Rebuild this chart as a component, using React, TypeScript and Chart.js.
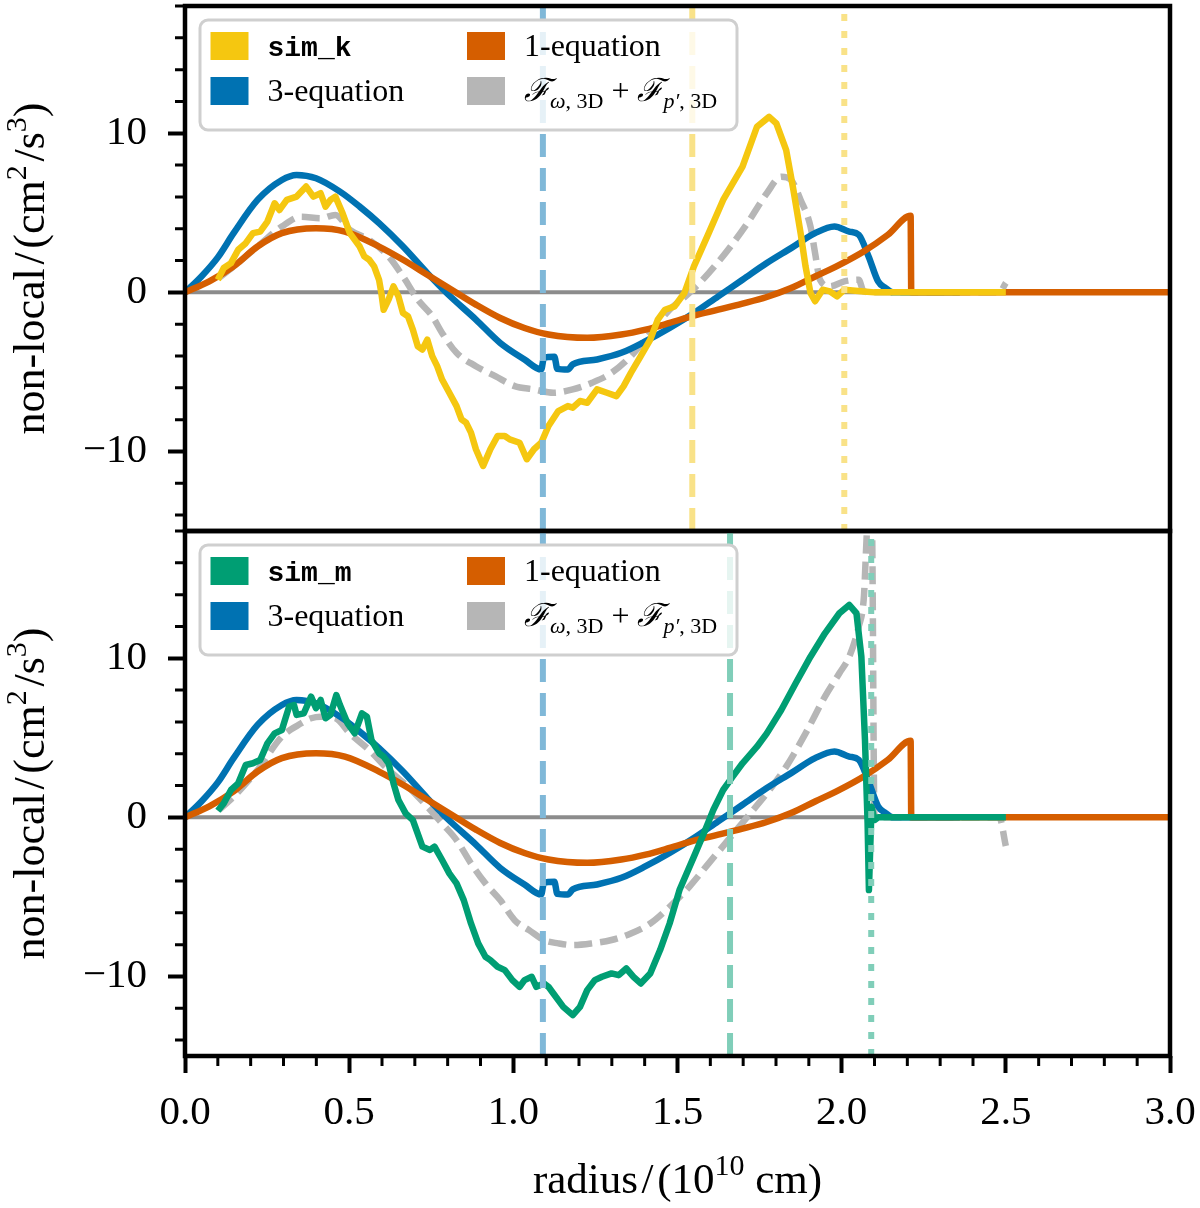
import React, { useEffect, useRef } from 'react';
import { Chart, registerables } from 'chart.js';

Chart.register(...registerables);

const SERIF = "'Liberation Serif', 'DejaVu Serif', serif";
const MONO = "'Liberation Mono', 'DejaVu Sans Mono', monospace";

// ---- axes ----
const X_MIN = 0;
const X_MAX = 3;
const Y_MIN = -15;
const Y_MAX = 18;
const xMajorTicks = [0, 0.5, 1, 1.5, 2, 2.5, 3];
const xMinorTicks = [0.1, 0.2, 0.3, 0.4, 0.6, 0.7, 0.8, 0.9, 1.1, 1.2, 1.3, 1.4, 1.6, 1.7, 1.8, 1.9, 2.1, 2.2, 2.3, 2.4, 2.6, 2.7, 2.8, 2.9];
const yMajorTicks = [-10, 0, 10];
const yMinorTicks = [-14, -12, -8, -6, -4, -2, 2, 4, 6, 8, 12, 14, 16, 18];

// ---- colours ----
const YELLOW = '#F5C710';
const BLUE = '#0072B2';
const ORANGE = '#D55E00';
const GREEN = '#009E73';
const GRAY = '#B6B6B6';
const ZERO_GRAY = '#8C8C8C';
const BLUE_LIGHT = '#80B8D8';
const YELLOW_LIGHT = '#F9E288';
const GREEN_LIGHT = '#80CEB9';

// ---- data (radius in 1e10 cm, non-local in cm^2/s^3) ----
const oneEq: [number, number][] = [
  [0, 0], [0.074, 0.69], [0.148, 1.63], [0.221, 2.88], [0.295, 3.72], [0.399, 4.03], [0.487, 3.82],
  [0.591, 2.88], [0.664, 2.05], [0.738, 1.11], [0.812, 0.17], [0.886, -0.77], [0.96, -1.61],
  [1.034, -2.24], [1.107, -2.65], [1.225, -2.86], [1.329, -2.65], [1.403, -2.34], [1.476, -1.92],
  [1.55, -1.46], [1.624, -1.09], [1.698, -0.71], [1.772, -0.29], [1.846, 0.27], [1.919, 1.0],
  [1.993, 1.73], [2.067, 2.57], [2.141, 3.62], [2.21, 4.81], [2.212, 0], [3.0, 0],
];

const threeEq: [number, number][] = [
  [0, 0], [0.05, 1.0], [0.1, 2.2], [0.148, 3.72], [0.221, 5.81], [0.295, 7.06], [0.34, 7.38],
  [0.399, 7.17], [0.472, 6.33], [0.532, 5.39], [0.591, 4.35], [0.664, 2.88], [0.738, 1.21],
  [0.797, -0.04], [0.886, -1.71], [0.96, -3.18], [1.034, -4.22], [1.085, -4.85], [1.093, -4.12],
  [1.125, -4.05], [1.134, -4.81], [1.166, -4.85], [1.181, -4.53], [1.255, -4.22], [1.329, -3.8],
  [1.403, -3.07], [1.476, -2.24], [1.55, -1.3], [1.624, -0.25], [1.698, 0.79], [1.772, 1.84],
  [1.846, 2.78], [1.919, 3.72], [1.978, 4.14], [2.023, 3.82], [2.052, 3.62], [2.082, 2.26],
  [2.111, 0.69], [2.134, 0.27], [2.156, 0], [2.36, 0],
];

const simK: [number, number][] = [
  [0.1, 0.79], [0.118, 1.53], [0.14, 1.84], [0.162, 2.68], [0.185, 3.09], [0.207, 3.72], [0.229, 3.82],
  [0.251, 4.45], [0.273, 5.6], [0.288, 5.18], [0.31, 5.81], [0.34, 6.02], [0.369, 6.65], [0.391, 6.02],
  [0.413, 6.23], [0.428, 5.39], [0.443, 5.81], [0.458, 6.02], [0.48, 4.97], [0.502, 3.72], [0.517, 3.3],
  [0.532, 2.88], [0.546, 2.26], [0.561, 2.05], [0.576, 1.63], [0.591, 0.79], [0.598, -0.04],
  [0.605, -1.09], [0.62, -0.46], [0.635, 0.38], [0.65, -0.25], [0.664, -1.3], [0.679, -1.5],
  [0.694, -2.34], [0.709, -3.39], [0.723, -3.59], [0.738, -2.97], [0.753, -4.01], [0.768, -4.64],
  [0.783, -5.48], [0.805, -6.31], [0.827, -7.15], [0.842, -7.98], [0.856, -8.19], [0.871, -8.82],
  [0.886, -9.86], [0.908, -10.91], [0.93, -9.86], [0.952, -9.03], [0.974, -9.03], [0.989, -9.24],
  [1.019, -9.45], [1.041, -10.49], [1.063, -9.86], [1.085, -9.45], [1.107, -8.4], [1.137, -7.46],
  [1.166, -7.15], [1.181, -7.25], [1.203, -6.83], [1.225, -6.94], [1.255, -6.1], [1.285, -6.31],
  [1.314, -6.52], [1.336, -5.89], [1.358, -5.06], [1.388, -4.01], [1.417, -2.97], [1.44, -1.71],
  [1.462, -1.09], [1.491, -0.88], [1.521, -0.04], [1.55, 1.63], [1.595, 3.72], [1.639, 5.81],
  [1.698, 7.9], [1.742, 10.41], [1.779, 11.03], [1.801, 10.62], [1.831, 8.94], [1.853, 6.44],
  [1.875, 3.72], [1.89, 1.63], [1.905, -0.04], [1.919, -0.56], [1.942, 0.17], [1.964, 0.06],
  [1.986, -0.25], [2.008, 0.17], [2.067, 0.06], [2.1, 0], [2.5, 0],
];

const fluxTop: [number, number][] = [
  [0.103, 0.9], [0.148, 1.63], [0.221, 2.88], [0.295, 4.14], [0.354, 4.76], [0.413, 4.66], [0.458, 4.87],
  [0.502, 3.93], [0.561, 3.3], [0.62, 2.26], [0.664, 1.0], [0.709, -0.46], [0.753, -1.5], [0.783, -2.55],
  [0.827, -3.8], [0.886, -4.64], [0.945, -5.27], [1.004, -5.89], [1.063, -6.1], [1.122, -6.31],
  [1.181, -6.1], [1.24, -5.68], [1.299, -5.06], [1.358, -4.01], [1.417, -2.55], [1.476, -1.09],
  [1.536, -0.04], [1.595, 1.21], [1.654, 2.68], [1.713, 4.35], [1.772, 6.23], [1.816, 7.27],
  [1.846, 7.06], [1.875, 5.81], [1.905, 4.14], [1.919, 2.47], [1.934, 0.79], [1.964, 0.38],
  [2.008, 0.69], [2.052, 0.79], [2.067, 0.06], [2.1, 0], [2.48, 0], [2.5, 0.6],
];

const simM: [number, number][] = [
  [0.1, 0.42], [0.118, 0.88], [0.14, 1.72], [0.162, 2.14], [0.185, 3.29], [0.207, 3.4], [0.229, 3.61],
  [0.251, 4.65], [0.273, 5.28], [0.295, 5.49], [0.317, 6.96], [0.332, 7.06], [0.34, 6.44], [0.362, 6.54],
  [0.384, 7.59], [0.399, 6.86], [0.413, 7.38], [0.428, 6.23], [0.443, 6.44], [0.461, 7.69], [0.472, 7.06],
  [0.495, 5.91], [0.517, 5.28], [0.539, 6.54], [0.554, 6.33], [0.568, 4.86], [0.591, 4.03], [0.605, 3.82],
  [0.62, 3.4], [0.635, 2.14], [0.65, 1.09], [0.672, 0.25], [0.694, -0.17], [0.723, -1.84], [0.746, -2.05],
  [0.76, -1.84], [0.783, -2.68], [0.805, -3.52], [0.827, -4.15], [0.849, -5.2], [0.871, -6.67],
  [0.893, -7.92], [0.915, -8.76], [0.93, -8.97], [0.952, -9.39], [0.974, -9.6], [0.997, -10.23],
  [1.019, -10.65], [1.034, -10.23], [1.056, -10.02], [1.07, -10.65], [1.093, -10.44], [1.107, -10.65],
  [1.122, -11.07], [1.152, -11.91], [1.181, -12.43], [1.203, -11.91], [1.225, -10.86], [1.248, -10.23],
  [1.27, -10.02], [1.299, -9.81], [1.321, -9.92], [1.344, -9.5], [1.366, -10.02], [1.388, -10.44],
  [1.417, -9.81], [1.447, -8.34], [1.476, -6.67], [1.506, -4.57], [1.55, -2.47], [1.58, -1.01],
  [1.609, 0.46], [1.639, 1.72], [1.668, 2.56], [1.698, 3.4], [1.742, 4.44], [1.772, 5.28], [1.816, 6.75],
  [1.86, 8.43], [1.905, 10.1], [1.949, 11.57], [1.993, 12.83], [2.023, 13.35], [2.045, 12.83],
  [2.06, 10.1], [2.071, 4.86], [2.079, -0.38], [2.083, -4.57], [2.091, 0.67], [2.1, -0.17],
  [2.111, 0], [2.5, 0],
];

const fluxBottom: [number, number][] = [
  [0.103, 0.46], [0.148, 1.3], [0.221, 2.98], [0.295, 5.07], [0.354, 5.91], [0.384, 6.23], [0.413, 6.33],
  [0.458, 6.23], [0.502, 5.28], [0.561, 4.23], [0.62, 2.98], [0.679, 1.93], [0.738, 0.67], [0.783, -0.38],
  [0.827, -1.43], [0.871, -2.89], [0.915, -4.15], [0.96, -5.2], [1.004, -6.46], [1.048, -7.09],
  [1.093, -7.71], [1.137, -7.92], [1.181, -8.03], [1.24, -7.92], [1.299, -7.71], [1.358, -7.3],
  [1.417, -6.67], [1.476, -5.62], [1.536, -4.36], [1.595, -2.89], [1.654, -1.43], [1.713, 0.04],
  [1.772, 1.51], [1.831, 3.19], [1.89, 5.28], [1.949, 7.59], [1.993, 9.06], [2.023, 10.1],
  [2.052, 11.99], [2.067, 13.67], [2.08, 18.5], [2.092, 18.5], [2.1, 0], [2.48, 0], [2.5, -1.8],
];

const zeroLine: [number, number][] = [[0, 0], [3, 0]];

// vertical markers
const vlineTopX = [1.09, 1.545, 2.008];
const vlineBottomX = [1.09, 1.66, 2.09];

// legend labels
const legendTop = ['sim_k', '3-equation', '1-equation', 'F'];
const legendBottom = ['sim_m', '3-equation', '1-equation', 'F'];

type Pts = [number, number][];

const LW = 6.5;

function lineDs(pts: Pts, color: string, width: number, dash: number[] = [], smooth = false) {
  return {
    data: pts.map(([x, y]) => ({ x, y })),
    borderColor: color,
    backgroundColor: color,
    borderWidth: width,
    borderDash: dash,
    pointRadius: 0,
    pointHoverRadius: 0,
    fill: false,
    tension: 0,
    cubicInterpolationMode: smooth ? 'monotone' : 'default',
    borderCapStyle: 'butt',
    borderJoinStyle: 'round',
  };
}

function vlineDs(x: number, color: string, dash: number[]) {
  return lineDs([[x, Y_MIN], [x, Y_MAX]], color, 6, dash);
}

type Run = { t: string; font: string; dy?: number };

function drawRuns(ctx: CanvasRenderingContext2D, runs: Run[], x: number, y: number, align: 'left' | 'center') {
  let total = 0;
  for (const r of runs) {
    ctx.font = r.font;
    total += ctx.measureText(r.t).width;
  }
  let cx = align === 'center' ? x - total / 2 : x;
  ctx.textAlign = 'left';
  ctx.textBaseline = 'alphabetic';
  for (const r of runs) {
    ctx.font = r.font;
    ctx.fillText(r.t, cx, y + (r.dy || 0));
    cx += ctx.measureText(r.t).width;
  }
  return total;
}

const fRuns: Run[] = [
  { t: 'ℱ', font: `italic 32px ${SERIF}` },
  { t: 'ω', font: `italic 22px ${SERIF}`, dy: 7 },
  { t: ', 3D', font: `22px ${SERIF}`, dy: 7 },
  { t: ' + ', font: `32px ${SERIF}` },
  { t: 'ℱ', font: `italic 32px ${SERIF}` },
  { t: 'p′', font: `italic 22px ${SERIF}`, dy: 7 },
  { t: ', 3D', font: `22px ${SERIF}`, dy: 7 },
];

const HS = '\u200A';
const yTitleRuns: Run[] = [
  { t: `non-local${HS}/${HS}(cm`, font: `44px ${SERIF}` },
  { t: '2', font: `30px ${SERIF}`, dy: -18 },
  { t: `${HS}/s`, font: `44px ${SERIF}` },
  { t: '3', font: `30px ${SERIF}`, dy: -18 },
  { t: ')', font: `44px ${SERIF}` },
];

const xTitleRuns: Run[] = [
  { t: `radius${HS}/${HS}(10`, font: `43px ${SERIF}` },
  { t: '10', font: `30px ${SERIF}`, dy: -18 },
  { t: ' cm)', font: `43px ${SERIF}` },
];

type PanelSpec = {
  bottom: boolean;
  legend: string[];
  colors: string[];
};

function decorPlugin(spec: PanelSpec) {
  return {
    id: 'decor',
    afterDatasetsDraw(chart: any) {
      const { ctx, chartArea: a, scales } = chart;
      ctx.save();
      ctx.strokeStyle = '#000';
      ctx.fillStyle = '#000';
      // minor ticks
      ctx.lineWidth = 3;
      ctx.beginPath();
      for (const v of yMinorTicks) {
        const y = scales.y.getPixelForValue(v);
        ctx.moveTo(a.left - 10, y);
        ctx.lineTo(a.left, y);
      }
      if (spec.bottom) {
        for (const v of xMinorTicks) {
          const x = scales.x.getPixelForValue(v);
          ctx.moveTo(x, a.bottom);
          ctx.lineTo(x, a.bottom + 10);
        }
      }
      ctx.stroke();
      // frame
      ctx.lineWidth = 4.5;
      ctx.strokeRect(a.left, a.top, a.right - a.left, a.bottom - a.top);

      // legend
      const bx = a.left + 15;
      const by = a.top + 14;
      const bw = 537;
      const bh = 110;
      const r = 8;
      ctx.beginPath();
      ctx.moveTo(bx + r, by);
      ctx.arcTo(bx + bw, by, bx + bw, by + bh, r);
      ctx.arcTo(bx + bw, by + bh, bx, by + bh, r);
      ctx.arcTo(bx, by + bh, bx, by, r);
      ctx.arcTo(bx, by, bx + bw, by, r);
      ctx.closePath();
      ctx.fillStyle = 'rgba(255,255,255,0.8)';
      ctx.fill();
      ctx.strokeStyle = '#CFCFCF';
      ctx.lineWidth = 3;
      ctx.stroke();

      const colX = [bx + 10.5, bx + 267];
      const rowY = [by + 12, by + 57];
      spec.legend.forEach((label, i) => {
        const col = Math.floor(i / 2);
        const row = i % 2;
        const px = colX[col];
        const py = rowY[row];
        ctx.fillStyle = spec.colors[i];
        ctx.fillRect(px, py, 38, 28);
        ctx.fillStyle = '#000';
        const tx = px + 57;
        const ty = py + 14 + 10;
        if (label === 'F') {
          drawRuns(ctx, fRuns, tx, ty, 'left');
        } else if (label.startsWith('sim')) {
          drawRuns(ctx, [{ t: label, font: `bold 28px ${MONO}` }], tx, ty, 'left');
        } else {
          drawRuns(ctx, [{ t: label, font: `32px ${SERIF}` }], tx, ty, 'left');
        }
      });

      // y title
      ctx.fillStyle = '#000';
      ctx.save();
      ctx.translate(44, (a.top + a.bottom) / 2);
      ctx.rotate(-Math.PI / 2);
      drawRuns(ctx, yTitleRuns, 0, 0, 'center');
      ctx.restore();

      // x title
      if (spec.bottom) {
        drawRuns(ctx, xTitleRuns, (a.left + a.right) / 2, a.bottom + 137, 'center');
      }
      ctx.restore();
    },
  };
}

function makeChart(canvas: HTMLCanvasElement, datasets: any[], spec: PanelSpec, xHeight: number) {
  const tickFont = { family: SERIF, size: 41 };
  return new Chart(canvas, {
    type: 'line',
    data: { datasets },
    options: {
      animation: false,
      responsive: false,
      maintainAspectRatio: false,
      events: [],
      layout: { padding: { top: 6, right: 30, bottom: spec.bottom ? 0 : 9, left: 0 } },
      plugins: { legend: { display: false }, tooltip: { enabled: false } },
      scales: {
        x: {
          type: 'linear',
          min: X_MIN,
          max: X_MAX,
          display: spec.bottom,
          afterFit: (s: any) => {
            s.height = xHeight;
            s.paddingLeft = 0;
            s.paddingRight = 0;
            s.paddingTop = 0;
            s.paddingBottom = 0;
          },
          afterBuildTicks: (s: any) => { s.ticks = xMajorTicks.map((v) => ({ value: v })); },
          grid: { drawOnChartArea: false, drawTicks: true, tickLength: 17, tickWidth: 4, tickColor: '#000' },
          border: { display: false },
          ticks: {
            font: tickFont,
            color: '#000',
            padding: 16,
            maxRotation: 0,
            autoSkip: false,
            callback: (v: any) => Number(v).toFixed(1),
          },
        },
        y: {
          type: 'linear',
          min: Y_MIN,
          max: Y_MAX,
          afterFit: (s: any) => {
            s.width = 185;
            s.paddingTop = 0;
            s.paddingBottom = 0;
            s.paddingLeft = 0;
            s.paddingRight = 0;
          },
          afterBuildTicks: (s: any) => { s.ticks = yMajorTicks.map((v) => ({ value: v })); },
          grid: { drawOnChartArea: false, drawTicks: true, tickLength: 17, tickWidth: 4, tickColor: '#000' },
          border: { display: false },
          ticks: {
            font: tickFont,
            color: '#000',
            padding: 21,
            autoSkip: false,
            callback: (v: any) => (Number(v) < 0 ? '\u2212' + Math.abs(Number(v)) : String(v)),
          },
        },
      },
    } as any,
    plugins: [decorPlugin(spec) as any],
  });
}

export default function App() {
  const topRef = useRef<HTMLCanvasElement>(null);
  const botRef = useRef<HTMLCanvasElement>(null);

  useEffect(() => {
    const dashed = [23, 11];
    const dotted = [7, 10];
    const fDash = [18, 8];
    const topSets = [
      vlineDs(vlineTopX[0], BLUE_LIGHT, dashed),
      vlineDs(vlineTopX[1], YELLOW_LIGHT, dashed),
      vlineDs(vlineTopX[2], YELLOW_LIGHT, dotted),
      lineDs(simK, YELLOW, LW),
      lineDs(oneEq, ORANGE, LW, [], true),
      lineDs(threeEq, BLUE, LW, [], true),
      lineDs(fluxTop, GRAY, LW, fDash, true),
      lineDs(zeroLine, ZERO_GRAY, 4),
    ];
    const botSets = [
      vlineDs(vlineBottomX[0], BLUE_LIGHT, dashed),
      vlineDs(vlineBottomX[1], GREEN_LIGHT, dashed),
      vlineDs(vlineBottomX[2], GREEN_LIGHT, dotted),
      lineDs(simM, GREEN, LW),
      lineDs(oneEq, ORANGE, LW, [], true),
      lineDs(threeEq, BLUE, LW, [], true),
      lineDs(fluxBottom, GRAY, LW, fDash, true),
      lineDs(zeroLine, ZERO_GRAY, 4),
    ];
    const c1 = makeChart(topRef.current!, topSets, { bottom: false, legend: legendTop, colors: [YELLOW, BLUE, ORANGE, GRAY] }, 0);
    const c2 = makeChart(botRef.current!, botSets, { bottom: true, legend: legendBottom, colors: [GREEN, BLUE, ORANGE, GRAY] }, 152);
    return () => {
      c1.destroy();
      c2.destroy();
    };
  }, []);

  return (
    <div style={{ position: 'absolute', left: 0, top: 0, width: 1200, height: 1208, background: '#fff' }}>
      <canvas ref={topRef} width={1200} height={540} style={{ position: 'absolute', left: 0, top: 0, width: 1200, height: 540 }} />
      <canvas ref={botRef} width={1200} height={683} style={{ position: 'absolute', left: 0, top: 525, width: 1200, height: 683 }} />
    </div>
  );
}
